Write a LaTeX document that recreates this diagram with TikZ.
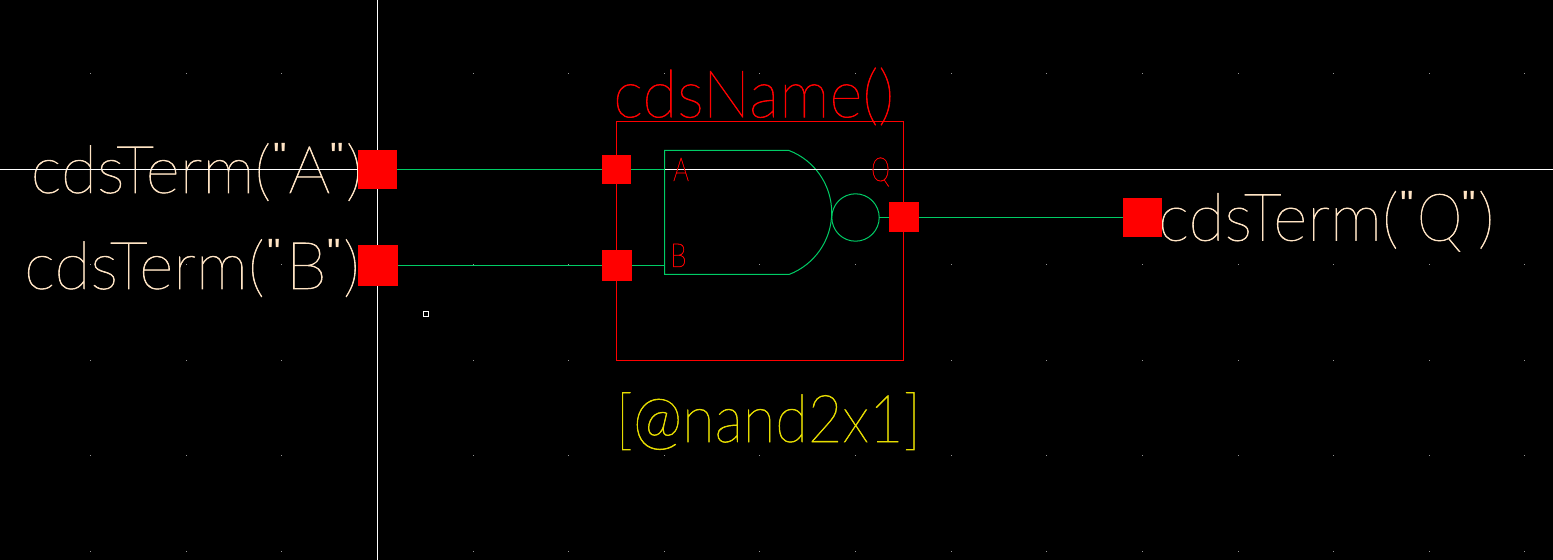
\documentclass[tikz,border=0pt]{standalone}
\usepackage{fontspec}
\setmainfont{Lato}[UprightFont=* Hairline,FakeBold=0]
\newfontfamily\bigfont{Lato}[UprightFont=* Hairline,AutoFakeBold=0,RawFeature={embolden=0.9}]
\newfontfamily\smallfont{Lato}[UprightFont=* Hairline,RawFeature={embolden=1.4}]
\newfontfamily\quotefont{Liberation Sans}
\newcommand{\qmark}{\raisebox{23bp}{\quotefont\fontsize{38bp}{40bp}\selectfont "}}
\newcommand{\hs}[2]{\scalebox{#1}[1]{#2}}
\newcommand{\gp}[1]{\kern#1bp\relax}
\definecolor{wiregreen}{RGB}{0,204,102}
\definecolor{termtext}{RGB}{255,228,196}
\definecolor{insttext}{RGB}{230,220,0}
\definecolor{griddot}{RGB}{150,150,150}
\tikzset{
  pinbox/.style={fill=red,draw=none,inner sep=0pt,outer sep=0pt,minimum width=#1,minimum height=#1},
  pinbox/.default=30bp,
  wire/.style={wiregreen,line width=1bp},
  cross/.style={white,line width=1bp},
  lbl/.style={inner sep=0pt,anchor=base west},
  term/.style={lbl,text=termtext,font=\bigfont\fontsize{66bp}{70bp}\selectfont},
  inst/.style={lbl,font=\bigfont\fontsize{66bp}{70bp}\selectfont},
  pinlabel/.style={lbl,text=red,font=\smallfont\fontsize{33bp}{36bp}\selectfont},
}
\begin{document}
\begin{tikzpicture}[x=1bp,y=-1bp]
\useasboundingbox (0,0) rectangle (1553,560);
\fill[black] (0,0) rectangle (1553,560);
% grid
\foreach \i in {0,...,15} \foreach \j in {0,...,5} {
  \pgfmathsetmacro{\gx}{round(90+95.63*\i)}
  \pgfmathsetmacro{\gy}{round(73+95.6*\j)}
  \fill[griddot] (\gx,\gy) rectangle ++(1,1);
}
% crosshair
\coordinate (crossT) at (377.5,0); \coordinate (crossB) at (377.5,560);
\coordinate (crossL) at (0,169.5); \coordinate (crossR) at (1553,169.5);
\draw[cross] (crossT) -- (crossB);
% texts
\node[term] (tA) at (30.5,193) {cdsTerm(\gp{3}\qmark\gp{1}A\qmark\gp{2}\relax)};
\node[term] (tB) at (24,289) {cdsTerm(\gp{3}\qmark\gp{5}B\gp{1}\qmark\gp{2}\relax)};
\node[term] (tQ) at (1158,240.7) {cdsTerm(\gp{2}\qmark\gp{3}\hs{0.88}{Q}\qmark\gp{2}\relax)};
\node[inst,text=red] (tName) at (613,117.3) {\hs{0.965}{cdsName()}};
\node[inst,text=insttext] (tCell) at (615.5,442) {\hs{0.905}{[@nand2x1]}};
% instance box
\node[draw=red,line width=1bp,outer sep=0pt,minimum width=287bp,minimum height=239bp,inner sep=0pt,anchor=north west] (inst) at (616.5,121.5) {};
% gate
\coordinate (gTL) at (664.5,150.5); \coordinate (gBL) at (664.5,274.5);
\coordinate (gTR) at (789,150.5); \coordinate (gBR) at (789,274.5);
\coordinate (gM) at (831.7,212.5);
\draw[wire] (gTR) -- (gTL) -- (gBL) -- (gBR)
  .. controls (814.7,264.6) and (831.7,240) .. (gM)
  .. controls (831.7,185) and (814.7,160.4) .. (gTR);
\node[circle,draw=wiregreen,line width=1bp,outer sep=0pt,minimum size=47.4bp,inner sep=0pt] (bubble) at (855.5,217.5) {};
% pins
\node[pinbox=39bp] (termA) at (377.5,169.5) {};
\node[pinbox=40bp] (termB) at (378,265.5) {};
\node[pinbox=39bp] (termQ) at (1142.5,217.5) {};
\node[pinbox=29.5bp] (pinA) at (616.5,169.5) {};
\node[pinbox=30bp] (pinB) at (617,265.5) {};
\node[pinbox=30bp] (pinQ) at (904,217.5) {};
% wires
\coordinate (gInA) at (664.5,169.5); \coordinate (gInB) at (664.5,265.5);
\draw[cross] (crossL) -- (termA.west);
\draw[wire] (termA.east) -- (pinA.west);
\draw[wire] (pinA.east) -- (gInA);
\draw[cross] (gInA) -- (crossR);
\draw[wire] (termB.east) -- (pinB.west);
\draw[wire] (pinB.east) -- (gInB);
\draw[wire] (bubble.east) -- (pinQ.west);
\draw[wire] (pinQ.east) -- (termQ.west);
\node[pinlabel] (lA) at (673,181) {\hs{0.75}{A}};
\node[pinlabel] (lB) at (670,267) {\hs{0.8}{B}};
\node[pinlabel] (lQ) at (871,181) {\hs{0.72}{Q}};
% marker
\node[draw=white,line width=1bp,outer sep=0pt,minimum size=5bp,inner sep=0pt] (marker) at (426,313.5) {};
\end{tikzpicture}
\end{document}
